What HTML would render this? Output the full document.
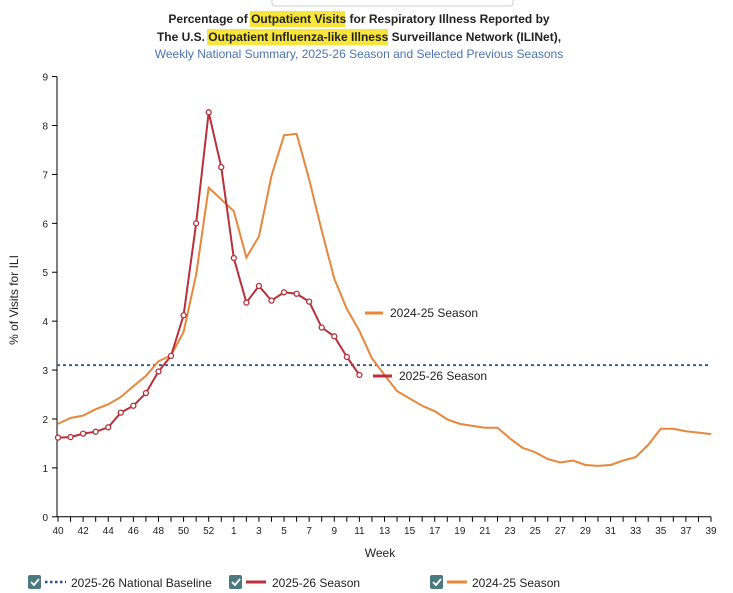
<!DOCTYPE html>
<html><head><meta charset="utf-8"><style>
body{margin:0;background:#fff;width:733px;height:593px;overflow:hidden;font-family:"Liberation Sans",Arial,sans-serif}
svg{display:block}
</style></head><body>
<svg id="chart" width="733" height="593">
<path d="M272,0 L272,3 Q272,6 275,6 L510,6 Q513,6 513,3 L513,0" fill="none" stroke="#ccc"/>
<g font-size="12" font-weight="bold" fill="#222" text-anchor="middle">
<rect x="250" y="11" width="95" height="16" fill="#f7e53b"/>
<rect x="207" y="29" width="181" height="16" fill="#f7e53b"/>
<text x="359" y="23">Percentage of Outpatient Visits for Respiratory Illness Reported by</text>
<text x="359" y="41">The U.S. Outpatient Influenza-like Illness Surveillance Network (ILINet),</text>
</g>
<text x="359" y="58" text-anchor="middle" font-size="12" fill="#4a74b4">Weekly National Summary, 2025-26 Season and Selected Previous Seasons</text>
<g id="axes"></g>
<g id="marks"></g>
<text transform="translate(18,300) rotate(-90)" text-anchor="middle" font-size="12" fill="#222">% of Visits for ILI</text>
<text x="380" y="557" text-anchor="middle" font-size="12" fill="#222">Week</text>
<g>
<rect x="28" y="575" width="13" height="14" rx="2" fill="#4a7a80"/><path d="M31,582 l3,3 l5,-6" stroke="#fff" stroke-width="1.8" fill="none"/>
<line x1="45" y1="582" x2="66" y2="582" stroke="#2b4f87" stroke-width="2.5" stroke-dasharray="2.5,2.5"/>
<text x="71" y="587" font-size="12" fill="#222">2025-26 National Baseline</text></g>
<g>
<rect x="229" y="575" width="13" height="14" rx="2" fill="#4a7a80"/><path d="M232,582 l3,3 l5,-6" stroke="#fff" stroke-width="1.8" fill="none"/>
<line x1="246" y1="582" x2="266" y2="582" stroke="#b7303a" stroke-width="3"/>
<text x="272" y="587" font-size="12" fill="#222">2025-26 Season</text></g>
<g>
<rect x="430" y="575" width="13" height="14" rx="2" fill="#4a7a80"/><path d="M433,582 l3,3 l5,-6" stroke="#fff" stroke-width="1.8" fill="none"/>
<line x1="447" y1="582" x2="467" y2="582" stroke="#e8863a" stroke-width="3"/>
<text x="472" y="587" font-size="12" fill="#222">2024-25 Season</text></g>
</svg>
<script>
const weeks=[40,41,42,43,44,45,46,47,48,49,50,51,52,53,1,2,3,4,5,6,7,8,9,10,11,12,13,14,15,16,17,18,19,20,21,22,23,24,25,26,27,28,29,30,31,32,33,34,35,36,37,38,39];
const season2526=[1.62,1.63,1.70,1.74,1.83,2.13,2.27,2.53,2.97,3.29,4.12,6.0,8.27,7.15,5.29,4.38,4.72,4.42,4.59,4.56,4.40,3.87,3.69,3.27,2.90];
const season2425=[1.90,2.02,2.07,2.20,2.30,2.45,2.67,2.88,3.18,3.30,3.78,4.95,6.73,null,6.25,5.30,5.73,6.97,7.80,7.83,6.90,5.85,4.87,4.25,3.80,3.24,2.90,2.57,2.42,2.27,2.16,1.99,1.90,1.86,1.82,1.82,1.60,1.41,1.32,1.18,1.11,1.15,1.06,1.04,1.06,1.15,1.22,1.47,1.80,1.80,1.75,1.72,1.69];
const baseline=[3.1];
const yTicks=[0,1,2,3,4,5,6,7,8,9];
const NS='http://www.w3.org/2000/svg';
const X0=58,X1=711,Y0=516.8,Y9=76.6;
const xs=i=>X0+i*(X1-X0)/(weeks.length-1);
const ys=v=>Y0-v*(Y0-Y9)/9;
function mk(t,a,p){const e=document.createElementNS(NS,t);for(const k in a)e.setAttribute(k,a[k]);p.appendChild(e);return e;}
const ax=document.getElementById('axes'),mg=document.getElementById('marks');
const yl=mk('line',{x1:57,y1:Y9,x2:57,y2:Y0,stroke:'#000'},ax);


const xl=mk('line',{x1:57,y1:Y0,x2:X1,y2:Y0,stroke:'#000'},ax);


yTicks.forEach(v=>{const y=ys(v);
const tk=mk('line',{x1:52,y1:y,x2:57,y2:y,stroke:'#000'},ax);


const t=mk('text',{x:48,y:y+4,'text-anchor':'end','font-size':10,fill:'#222'},ax);t.textContent=v;

});
weeks.forEach((w,i)=>{const x=xs(i);
const tk=mk('line',{x1:x,y1:Y0,x2:x,y2:Y0+5,stroke:'#000'},ax);


if(w!==53&&((w>=40&&w%2===0)||(w<40&&w%2===1))){const t=mk('text',{x:x,y:Y0+17,'text-anchor':'middle','font-size':10,fill:'#222'},ax);t.textContent=w;

}});
const bl=mk('line',{x1:57,y1:ys(baseline[0]),x2:X1,y2:ys(baseline[0]),stroke:'#3b5f93','stroke-width':2,'stroke-dasharray':'3,3'},mg);


function pts(arr){return arr.map((v,i)=>v==null?null:[xs(i),ys(v)]).filter(p=>p).map(p=>p.join(',')).join(' ');}
const ol=mk('polyline',{points:pts(season2425),fill:'none',stroke:'#e8863a','stroke-width':2},mg);


const rl=mk('polyline',{points:pts(season2526),fill:'none',stroke:'#b7303a','stroke-width':2},mg);


season2526.forEach((v,i)=>{const c=mk('circle',{cx:xs(i),cy:ys(v),r:2.5,fill:'#fff',stroke:'#b7303a','stroke-width':1.3},mg);

});
const l1=mk('line',{x1:365,y1:313,x2:383,y2:313,stroke:'#e8863a','stroke-width':3},mg);


const t1=mk('text',{x:390,y:317,'font-size':12,fill:'#222'},mg);t1.textContent='2024-25 Season';


const l2=mk('line',{x1:373,y1:376,x2:392,y2:376,stroke:'#b7303a','stroke-width':3},mg);


const t2=mk('text',{x:399,y:380,'font-size':12,fill:'#222'},mg);t2.textContent='2025-26 Season';


</script>
</body></html>
